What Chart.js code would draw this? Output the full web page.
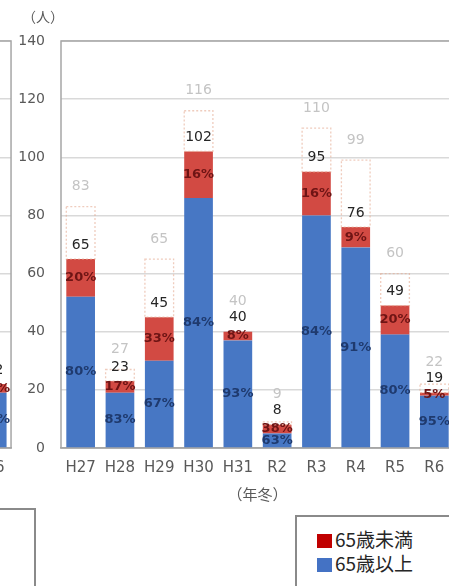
<!DOCTYPE html>
<html>
<head>
<meta charset="utf-8">
<script src="https://cdn.jsdelivr.net/npm/chart.js@4/dist/chart.umd.min.js"></script>
<style>
  html, body { margin: 0; padding: 0; background: #fff; }
  body { position: relative; width: 449px; height: 586px; overflow: hidden;
         font-family: 'DejaVu Sans', 'Noto Sans CJK JP', sans-serif; }
  canvas { position: absolute; top: 0; }
  #mainChart { left: 0; }
  #prevChart { left: -25px; }
  .unit { position: absolute; left: 22px; top: 6px; font-size: 14px; color: #595959;
          font-family: 'Noto Sans CJK JP', sans-serif; line-height: 20px; }
  .legend { position: absolute; border: 2px solid #8a8a8a; background: #fff; }
  #legendMain { left: 295px; top: 515px; width: 200px; height: 100px; }
  #legendPrev { left: -12px; top: 508px; width: 44px; height: 100px; }
  .item { position: absolute; left: 20px; height: 24px; line-height: 24px; font-size: 19px;
          color: #262626; font-family: 'Noto Sans CJK JP', sans-serif; white-space: nowrap; }
  .sw { display: inline-block; width: 15px; height: 14px; margin-right: 3px; vertical-align: -1px; }
</style>
</head>
<body>
<canvas id="prevChart" width="39" height="586"></canvas>
<canvas id="mainChart" width="470" height="586"></canvas>
<div class="unit">（人）</div>
<div class="legend" id="legendPrev"></div>
<div class="legend" id="legendMain"></div>
<script>
// Winter seasons and counts of people by age group
const categories = ['H27', 'H28', 'H29', 'H30', 'H31', 'R2', 'R3', 'R4', 'R5', 'R6'];
const under65 = [13, 4, 15, 16, 3, 3, 15, 7, 10, 1];
const over65 = [52, 19, 30, 86, 37, 5, 80, 69, 39, 18];
// Larger figure shown as the dotted outline above each bar
const outlineTotals = [83, 27, 65, 116, 40, 9, 110, 99, 60, 22];
const yTicks = [0, 20, 40, 60, 80, 100, 120, 140];

// Last season of the neighbouring panel at the left edge
const prevCategories = ['R6'];
const prevUnder65 = [3];
const prevOver65 = [19];
const prevOutlineTotals = [22];

const seriesNames = ['65歳未満', '65歳以上'];
const legendColors = ['#C00000', '#4472C4'];
const BLUE = '#4777C4';
const RED = '#D24A43';
const FONT = "'DejaVu Sans', 'Noto Sans CJK JP', sans-serif";

// HTML legend
document.getElementById('legendMain').innerHTML = seriesNames.map((n, i) =>
  `<div class="item" style="top:${10 + i * 24}px"><span class="sw" style="background:${legendColors[i]}"></span>${n}</div>`
).join('');

function sums(a, b) { return a.map((v, i) => v + b[i]); }

// Frame around the plotting area
const framePlugin = {
  id: 'frame',
  beforeDatasetsDraw(chart) {
    const { ctx, chartArea: a } = chart;
    ctx.save();
    ctx.strokeStyle = '#a6a6a6';
    ctx.lineWidth = 1.5;
    ctx.strokeRect(a.left, a.top, a.right - a.left, a.bottom - a.top);
    ctx.restore();
  }
};

// Dotted outlines, totals and age-group shares
function makeLabelPlugin(under, over, outline, showOutline) {
  const totals = sums(under, over);
  return {
    id: 'barLabels',
    afterDatasetsDraw(chart) {
      const ctx = chart.ctx;
      const blueEls = chart.getDatasetMeta(0).data;
      const redEls = chart.getDatasetMeta(1).data;
      const gapEls = chart.getDatasetMeta(2).data;
      ctx.save();
      ctx.textAlign = 'center';
      ctx.textBaseline = 'middle';
      totals.forEach((t, i) => {
        const b = blueEls[i], r = redEls[i], g = gapEls[i];
        const blackY = r.y - 14;
        if (showOutline) {
          // dotted outline over the gap
          if (outline[i] > t) {
            ctx.save();
            ctx.setLineDash([2, 2]);
            ctx.strokeStyle = 'rgba(228, 170, 145, 0.6)';
            ctx.lineWidth = 1.3;
            ctx.strokeRect(g.x - g.width / 2, g.y, g.width, g.base - g.y);
            ctx.restore();
          }
          const greyY = Math.min(g.y - 20, blackY - 16);
          ctx.font = `14px ${FONT}`;
          ctx.fillStyle = '#c4c4c4';
          ctx.fillText(String(outline[i]), g.x, greyY);
        }
        ctx.font = `14px ${FONT}`;
        ctx.fillStyle = '#262626';
        ctx.fillText(String(t), r.x, blackY);
        // shares
        ctx.font = `bold 13px ${FONT}`;
        ctx.fillStyle = '#1f3a6e';
        ctx.fillText(Math.round(over[i] / t * 100) + '%', b.x, (b.y + b.base) / 2);
        ctx.fillStyle = '#6e1414';
        ctx.fillText(Math.round(under[i] / t * 100) + '%', r.x, (r.y + r.base) / 2);
      });
      ctx.restore();
    }
  };
}

function buildChart(id, cats, under, over, outline, withAxis) {
  const totals = sums(under, over);
  const gap = outline.map((v, i) => v - totals[i]);
  return new Chart(document.getElementById(id), {
    type: 'bar',
    data: {
      labels: cats,
      datasets: [
        { label: seriesNames[1], data: over, backgroundColor: BLUE },
        { label: seriesNames[0], data: under, backgroundColor: RED },
        { label: 'outline', data: gap, backgroundColor: 'rgba(255,255,255,0)' }
      ]
    },
    options: {
      responsive: false,
      animation: false,
      devicePixelRatio: 1,
      layout: { padding: { top: 41, right: withAxis ? 16 : 0, bottom: 83, left: 0 } },
      datasets: { bar: { categoryPercentage: 1, barPercentage: 0.73 } },
      plugins: { legend: { display: false }, tooltip: { enabled: false } },
      scales: {
        x: {
          stacked: true,
          afterFit(s) { s.height = 55; },
          grid: { display: false, drawTicks: false },
          border: { display: true, color: '#a6a6a6', width: 1.5 },
          ticks: { color: '#595959', font: { family: FONT, size: 15 }, padding: 11, maxRotation: 0, autoSkip: false },
          title: {
            display: withAxis, text: '（年冬）', color: '#595959', padding: 0,
            font: { family: "'Noto Sans CJK JP', sans-serif", size: 15 }
          }
        },
        y: {
          stacked: true,
          min: 0, max: 140,
          afterFit(s) { s.width = withAxis ? 61 : 0; },
          afterBuildTicks(s) { s.ticks = yTicks.map(v => ({ value: v })); },
          grid: { color: '#d9d9d9', lineWidth: 1.5, drawTicks: false },
          border: { display: false },
          ticks: { display: withAxis, color: '#595959', font: { family: FONT, size: 14 }, padding: 16 }
        }
      }
    },
    plugins: [framePlugin, makeLabelPlugin(under, over, outline, withAxis)]
  });
}

buildChart('prevChart', prevCategories, prevUnder65, prevOver65, prevOutlineTotals, false);
buildChart('mainChart', categories, under65, over65, outlineTotals, true);
</script>
</body>
</html>
